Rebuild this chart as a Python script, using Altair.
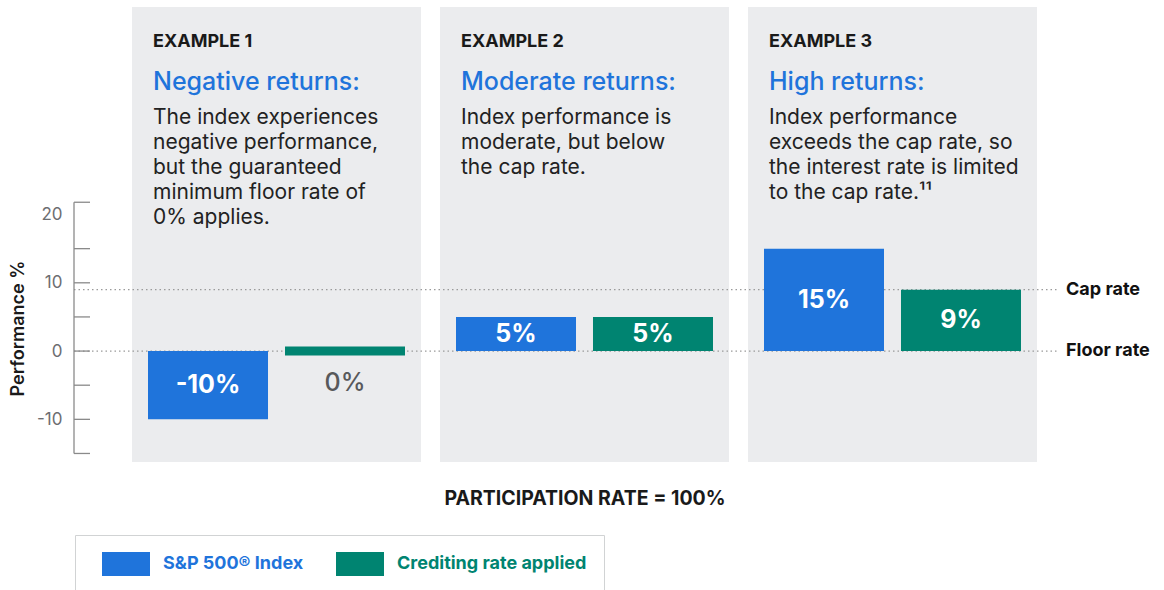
import altair as alt
import pandas as pd

# ---------------- data ----------------
examples = ["Example 1", "Example 2", "Example 3"]
headers = ["EXAMPLE 1", "EXAMPLE 2", "EXAMPLE 3"]
titles = ["Negative returns:", "Moderate returns:", "High returns:"]
bodies = [
    ["The index experiences", "negative performance,", "but the guaranteed",
     "minimum floor rate of", "0% applies."],
    ["Index performance is", "moderate, but below", "the cap rate."],
    ["Index performance", "exceeds the cap rate, so",
     "the interest rate is limited", "to the cap rate.\u00b9\u00b9"],
]
series = ["S&P 500\u00ae Index", "Crediting rate applied"]
index_values = [-10, 5, 15]
credited_values = [0, 5, 9]
ref_rates = [9, 0]
ref_labels = ["Cap rate", "Floor rate"]
axis_ticks = [-15, -10, -5, 0, 5, 10, 15, 21.8]
axis_labels = [-10, 0, 10, 20]
axis_extent = [-15, 21.8]
y_domain = [-16.25, 50.4]

# ---------------- styling ----------------
FONT = "Inter"
BLUE = "#1F74DB"
GREEN = "#008471"
PANEL = "#EBECEE"
W, H = 917, 455
AXIS_X = -52

bars = pd.DataFrame(
    [{"example": e, "series": series[0], "value": v} for e, v in zip(examples, index_values)]
    + [{"example": e, "series": series[1], "value": v} for e, v in zip(examples, credited_values)]
)
panels = pd.DataFrame({"example": examples, "header": headers, "title": titles, "body": bodies})
refs = pd.DataFrame({"rate": ref_rates, "label": ref_labels})
ticks = pd.DataFrame({"t": axis_ticks})
axline = pd.DataFrame({"lo": [axis_extent[0]], "hi": [axis_extent[1]]})

xscale = alt.Scale(domain=examples, paddingInner=0.0617, paddingOuter=0.0195)
xaxis = alt.Axis(labels=False, ticks=False, domain=False, title="PARTICIPATION RATE = 100%",
                 titleFont=FONT, titleFontSize=19.5, titleFontWeight="bold", titleColor="#1a1a1a",
                 titlePadding=27)
yscale = alt.Scale(domain=y_domain, nice=False, zero=False)
yaxis = alt.Axis(values=axis_labels, ticks=False, domain=False, grid=False, offset=52,
                 labelExpr="replace(datum.label, '\u2212', '-')",
                 labelFont=FONT, labelFontSize=17, labelColor="#6d6e71", labelPadding=12,
                 title="Performance %", titleFont=FONT, titleFontSize=18, titleFontWeight=600,
                 titleColor="#1a1a1a", titleX=-56, titleY=321, titleBaseline="middle",
                 titleAngle=270, titleAlign="center")
xoff = alt.XOffset("series:N", scale=alt.Scale(domain=series, paddingInner=0.124, paddingOuter=0.1168))

X = alt.X("example:N", scale=xscale, axis=xaxis)
XL = alt.X("example:N", scale=xscale, axis=xaxis, bandPosition=0)

panel_layer = alt.Chart(panels).mark_rect(color=PANEL).encode(
    x=X, y=alt.value(0), y2=alt.value(H))

ref_layer = alt.Chart(refs).mark_rule(color="#9a9a9a", strokeDash=[1.5, 3], strokeWidth=1.3).encode(
    y=alt.Y("rate:Q", scale=yscale, axis=yaxis), x=alt.value(AXIS_X), x2=alt.value(W + 15))

ref_text = alt.Chart(refs).mark_text(align="left", baseline="middle", font=FONT, fontSize=18,
                                     fontWeight="bold", color="#111111").encode(
    y=alt.Y("rate:Q", scale=yscale, axis=yaxis), x=alt.value(W + 23), text="label:N")

axis_line = alt.Chart(axline).mark_rule(color="#8a8a8a", strokeWidth=1.3).encode(
    x=alt.value(AXIS_X), y=alt.Y("lo:Q", scale=yscale, axis=yaxis), y2="hi:Q")
axis_ticks_layer = alt.Chart(ticks).mark_rule(color="#8a8a8a", strokeWidth=1.3).encode(
    x=alt.value(AXIS_X), x2=alt.value(AXIS_X + 16), y=alt.Y("t:Q", scale=yscale, axis=yaxis))

label_color_expr = "datum.value === '" + series[0] + "' ? '" + BLUE + "' : '" + GREEN + "'"

bar_layer = alt.Chart(bars).transform_filter("datum.value != 0").mark_bar().encode(
    x=X, xOffset=xoff,
    y=alt.Y("value:Q", scale=yscale, axis=yaxis),
    color=alt.Color("series:N", scale=alt.Scale(domain=series, range=[BLUE, GREEN]),
                    legend=alt.Legend(
                        title=None, orient="none", legendX=-51, legendY=528, direction="horizontal",
                        symbolType="M-2,-1H2V1H-2Z", symbolSize=576, symbolStrokeWidth=0,
                        symbolOpacity=1, symbolOffset=22,
                        labelFont=FONT, labelFontSize=18, labelFontWeight="bold", labelOffset=25,
                        columnPadding=22, padding=17, strokeColor="#d1d3d4", cornerRadius=0,
                        labelLimit=400, labelColor=alt.ExprRef(label_color_expr)),
                    ),
)

zero_bar = alt.Chart(bars).transform_filter("datum.value == 0").mark_tick(
    thickness=9, size=120, color=GREEN, opacity=1).encode(
    x=X, xOffset=xoff, y=alt.Y("value:Q", scale=yscale, axis=yaxis))

bar_text = alt.Chart(bars).transform_filter("datum.value != 0").transform_calculate(
    mid="datum.value / 2", lab="datum.value + '%'").mark_text(
    font=FONT, fontSize=25, fontWeight="bold", color="white", baseline="middle").encode(
    x=X, xOffset=xoff, y=alt.Y("mid:Q", scale=yscale, axis=yaxis), text="lab:N")

zero_text = alt.Chart(bars).transform_filter("datum.value == 0").transform_calculate(
    lab="datum.value + '%'").mark_text(
    font=FONT, fontSize=25, fontWeight=500, color="#58595b", baseline="middle", dy=32).encode(
    x=X, xOffset=xoff, y=alt.Y("value:Q", scale=yscale, axis=yaxis), text="lab:N")

hdr = alt.Chart(panels).mark_text(align="left", baseline="middle", dx=21, font=FONT,
                                  fontSize=18, fontWeight="bold", color="#1a1a1a").encode(
    x=XL, y=alt.value(34.5), text="header:N")
ttl = alt.Chart(panels).mark_text(align="left", baseline="middle", dx=21, font=FONT,
                                  fontSize=25, fontWeight=500, color=BLUE).encode(
    x=XL, y=alt.value(75), text="title:N")
body = alt.Chart(panels).mark_text(align="left", baseline="top", dx=21, font=FONT,
                                   fontSize=21, lineHeight=25, color="#222222").encode(
    x=XL, y=alt.value(100), text="body")

chart = alt.layer(
    panel_layer, ref_layer, axis_line, axis_ticks_layer, bar_layer, zero_bar,
    bar_text, zero_text, hdr, ttl, body, ref_text
).properties(
    width=W, height=H,
    autosize=alt.AutoSizeParams(type="none"),
    padding={"left": 126, "top": 7, "right": 121, "bottom": 128},
    background="white",
).configure_view(stroke=None)

chart.save("out.html", embed_options={"renderer": "svg", "actions": False})
